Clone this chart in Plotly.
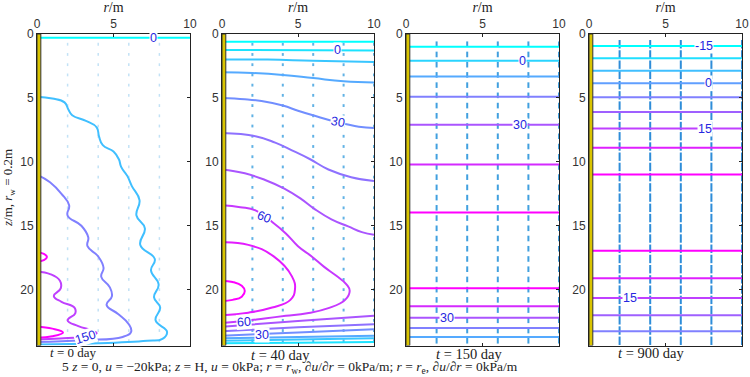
import plotly.graph_objects as go

# ---------------- data ----------------
X_TICKS = [0, 5, 10]
Y_TICKS = [0, 5, 10, 15, 20]
Z_MAX = 24.37
WELL_R = 0.25

PANEL_TITLES = ["<i>t</i> = 0 day", "<i>t</i> = 40 day", "<i>t</i> = 150 day", "<i>t</i> = 900 day"]

# Panel 1 (t = 0 day)
P1_RANGE = [0, 200]
P1_LEVELS = [0, 50, 100, 150, 200, 200]
P1_X = [
    [0, 10],
    [0, 1.0, 1.8, 2.05, 2.3, 3.2, 3.9, 4.05, 4.3, 5.0, 5.35, 5.5, 5.9, 6.2, 6.7, 6.5, 7.05, 6.75, 7.7, 7.45,
     7.95, 7.65, 8.05, 7.75, 8.5, 8.2, 7.2, 4.0, 0],
    [0, 0.85, 1.6, 2.1, 2.0, 2.9, 3.35, 3.3, 4.0, 4.35, 4.2, 4.75, 4.9, 4.55, 5.3, 6.0, 6.15, 5.6, 3.0, 0],
    [0, 0.9, 1.5, 1.55, 1.1, 1.6, 2.45, 2.5, 2.0, 2.7, 3.6, 3.9, 3.2, 1.5, 0],
    [0, 0.45, 0.65, 0.45, 0],
    [0, 1.0, 1.7, 1.0, 0],
]
P1_Y = [
    [0.3, 0.3],
    [4.9, 5.05, 5.35, 5.9, 6.35, 6.8, 7.3, 8.0, 8.7, 9.2, 9.8, 10.4, 11.1, 11.9, 13.0, 14.2, 15.2, 16.5, 17.6, 18.5,
     19.6, 20.6, 21.4, 22.4, 23.3, 23.85, 24.0, 24.2, 24.3],
    [11.0, 11.6, 12.5, 13.4, 14.2, 15.0, 15.9, 16.6, 17.4, 18.3, 19.0, 19.8, 20.5, 21.2, 21.9, 22.7, 23.3, 23.7, 23.95, 24.1],
    [18.6, 18.8, 19.3, 19.9, 20.5, 20.95, 21.4, 21.85, 22.4, 22.85, 23.2, 23.4, 23.65, 23.82, 23.9],
    [17.1, 17.2, 17.45, 17.7, 17.8],
    [22.9, 23.05, 23.35, 23.65, 23.75],
]
P1_LABELS = ["0", "150"]
P1_LABEL_X = [7.6, 3.2]
P1_LABEL_Y = [0.3, 23.72]
P1_LABEL_ANGLE = [0, -18]

# Panel 2 (t = 40 day)
P2_RANGE = [-10, 80]
P2_LEVELS = [-10, 0, 10, 20, 30, 40, 50, 60, 70, 80, 50, 40, 30, 20, 10, 0]
P2_X = [
    [0, 10],
    [0, 10],
    [0, 3, 6, 10],
    [0, 2, 4, 6, 8, 10],
    [0, 1.5, 2.6, 4, 5, 6.1, 7.6, 9, 10],
    [0, 2.2, 3.5, 4.6, 5.8, 7, 8.5, 10],
    [0, 1.5, 2.8, 4.1, 5.2, 6.1, 7.2, 8.3, 9.2, 10],
    [0, 1.2, 2.2, 3.4, 4.2, 5.0, 5.9, 6.7, 7.5, 8.2, 8.4, 8.1, 7.0, 5.6, 4.2, 2.8, 1.4, 0],
    [0, 1.73, 3.4, 4.6, 4.8, 4.5, 3.3, 1.73, 0],
    [0, 0.7, 1.3, 1.5, 1.3, 0.7, 0],
    [0, 5, 10],
    [0, 5, 10],
    [0, 5, 10],
    [0, 5, 10],
    [0, 5, 10],
    [0, 5, 10],
]
P2_Y = [
    [0.6, 0.6],
    [1.25, 1.3],
    [2.0, 2.0, 2.1, 2.2],
    [3.0, 3.05, 3.2, 3.45, 3.7, 3.8],
    [5.0, 5.1, 5.25, 5.6, 6.0, 6.4, 6.9, 7.25, 7.35],
    [7.75, 8.0, 8.5, 9.1, 9.8, 10.6, 11.2, 11.5],
    [10.6, 10.9, 11.4, 12.1, 12.9, 13.7, 14.5, 15.05, 15.5, 15.7],
    [13.4, 13.55, 13.8, 14.8, 15.6, 16.6, 17.4, 18.2, 18.9, 19.6, 20.1, 20.8, 21.45, 21.85, 22.05, 22.25, 22.45, 22.6],
    [16.3, 16.5, 17.4, 18.96, 20.0, 20.8, 21.4, 21.8, 22.0],
    [19.3, 19.4, 19.7, 20.1, 20.55, 20.8, 20.9],
    [22.9, 22.45, 22.05],
    [23.25, 22.95, 22.7],
    [23.6, 23.35, 23.1],
    [23.8, 23.7, 23.6],
    [24.0, 23.9, 23.8],
    [24.2, 24.15, 24.1],
]
P2_LABELS = ["0", "30", "60", "60", "30"]
P2_LABEL_X = [7.6, 7.6, 2.75, 1.45, 2.6]
P2_LABEL_Y = [1.27, 6.85, 14.35, 22.55, 23.55]
P2_LABEL_ANGLE = [0, 10, 22, -4, 0]

# Panel 3 (t = 150 day): horizontal contours
P3_RANGE = [-10, 50]
P3_LEVELS = [-10, 0, 10, 20, 30, 40, 50, 50, 40, 30, 20, 10]
P3_DEPTH = [0.99, 2.1, 3.33, 4.9, 7.1, 10.2, 13.96, 19.9, 21.3, 22.2, 23.0, 23.7]
P3_LABELS = ["0", "30", "30"]
P3_LABEL_X = [7.6, 7.45, 2.65]
P3_LABEL_Y = [2.1, 7.1, 22.2]

# Panel 4 (t = 900 day): horizontal contours
P4_RANGE = [-15, 25]
P4_LEVELS = [-15, -10, -5, 0, 5, 10, 15, 20, 25, 25, 20, 15, 10, 5]
P4_DEPTH = [0.94, 1.9, 2.87, 3.85, 4.95, 6.1, 7.4, 8.9, 11.0, 16.95, 19.1, 20.65, 22.0, 23.25]
P4_LABELS = ["-15", "0", "15", "15"]
P4_LABEL_X = [7.5, 7.8, 7.6, 2.7]
P4_LABEL_Y = [0.94, 3.85, 7.4, 20.65]

# flow-arrow (quiver) grid
P1_QX = [2, 4, 6, 8]
P2_QX = [2, 4, 6, 8, 10]
P3_QX = [0.12, 2, 4, 6, 8, 10]
P4_QX = [0.12, 2, 4, 6, 8, 10]
QUIVER_Y = [0.8, 1.6, 2.4, 3.2, 4.0, 4.8, 5.6, 6.4, 7.2, 8.0, 8.8, 9.6, 10.4, 11.2, 12.0,
            12.8, 13.6, 14.4, 15.2, 16.0, 16.8, 17.6, 18.4, 19.2, 20.0, 20.8, 21.6, 22.4, 23.2, 24.0]

# ---------------- figure ----------------
W, H = 750, 377
X_DOM = [[37, 190], [222, 374], [406, 559], [589, 742]]
Y_TOP, Y_BOT = 34, 345.5


def cool(level, rng):
    t = (level - rng[0]) / (rng[1] - rng[0])
    t = min(max(t, 0), 1)
    return "rgb(%d,%d,255)" % (round(255 * t), round(255 * (1 - t)))


def ax(k, base):
    return base if k == 1 else base + str(k)


fig = go.Figure()
LABEL_FONT = dict(family="Liberation Sans", size=12.5, color="#2626e0")
annotations = []


def add_lines(k, levels, xs, ys, rng):
    for lv, x, y in zip(levels, xs, ys):
        fig.add_trace(go.Scatter(x=x, y=y, mode="lines", xaxis=ax(k, "x"), yaxis=ax(k, "y"),
                                 line=dict(color=cool(lv, rng), width=2, shape="spline", smoothing=1.3),
                                 hoverinfo="skip", showlegend=False))


def add_labels(k, texts, lx, ly, ang):
    for t, x, y, a in zip(texts, lx, ly, ang):
        annotations.append(dict(x=x, y=y, xref=ax(k, "x"), yref=ax(k, "y"),
                                text=t, showarrow=False, font=LABEL_FONT, bgcolor="white",
                                borderpad=0, textangle=a))


def add_quiver(k, qx, color, size, width, opacity):
    xs, ys = [], []
    for x in qx:
        for y in QUIVER_Y:
            xs.append(x)
            ys.append(y)
    fig.add_trace(go.Scatter(x=xs, y=ys, mode="markers", xaxis=ax(k, "x"), yaxis=ax(k, "y"),
                             marker=dict(symbol="line-ns", size=size, color=color,
                                         line=dict(color=color, width=width)),
                             opacity=opacity, hoverinfo="skip", showlegend=False))


# quivers first (under contours)
add_quiver(1, P1_QX, "rgb(120,190,235)", 2, 1.5, 0.45)
add_quiver(2, P2_QX, "rgb(70,165,225)", 2, 2, 0.85)
add_quiver(3, P3_QX, "rgb(45,150,220)", 4, 2, 0.9)
add_quiver(4, P4_QX, "rgb(35,135,215)", 6, 2, 0.95)

add_lines(1, P1_LEVELS, P1_X, P1_Y, P1_RANGE)
add_lines(2, P2_LEVELS, P2_X, P2_Y, P2_RANGE)
add_lines(3, P3_LEVELS, [[0, 10]] * len(P3_DEPTH), [[d, d] for d in P3_DEPTH], P3_RANGE)
add_lines(4, P4_LEVELS, [[0, 10]] * len(P4_DEPTH), [[d, d] for d in P4_DEPTH], P4_RANGE)

add_labels(1, P1_LABELS, P1_LABEL_X, P1_LABEL_Y, P1_LABEL_ANGLE)
add_labels(2, P2_LABELS, P2_LABEL_X, P2_LABEL_Y, P2_LABEL_ANGLE)
add_labels(3, P3_LABELS, P3_LABEL_X, P3_LABEL_Y, [0] * len(P3_LABELS))
add_labels(4, P4_LABELS, P4_LABEL_X, P4_LABEL_Y, [0] * len(P4_LABELS))

shapes = []
layout = dict(width=W, height=H, margin=dict(l=0, r=0, t=0, b=0, autoexpand=False),
              paper_bgcolor="white", plot_bgcolor="white", showlegend=False)
TICKFONT = dict(family="Liberation Sans", size=12, color="#333333")
for i in range(4):
    k = i + 1
    sx = "" if k == 1 else str(k)
    layout["xaxis" + sx] = dict(domain=[X_DOM[i][0] / W, X_DOM[i][1] / W], range=[0, 10],
                                anchor="y" + sx, side="top", tickvals=X_TICKS, automargin=False,
                                ticks="inside", ticklen=3, tickcolor="#222",
                                showline=True, mirror="ticks", linecolor="#222", linewidth=1,
                                showgrid=False, zeroline=False, tickfont=TICKFONT,
                                title=dict(text="<i>r</i>/m", standoff=2,
                                           font=dict(family="Liberation Serif", size=14, color="#222")))
    layout["yaxis" + sx] = dict(domain=[1 - Y_BOT / H, 1 - Y_TOP / H], range=[Z_MAX, 0],
                                anchor="x" + sx, tickvals=Y_TICKS, automargin=False,
                                ticks="inside", ticklen=3, tickcolor="#222",
                                showline=True, mirror="ticks", linecolor="#222", linewidth=1,
                                showgrid=False, zeroline=False, tickfont=TICKFONT)
    shapes.append(dict(type="rect", xref="x" + sx, yref="y" + sx, x0=0, x1=WELL_R, y0=0, y1=Z_MAX,
                       fillcolor="#d9c400", line=dict(color="#333", width=1), layer="above"))

TITLE_POS = [(73, 352, 13), (280, 355, 14.5), (469, 354, 14.5), (651, 353, 14.5)]
for t, (px, py, fs) in zip(PANEL_TITLES, TITLE_POS):
    annotations.append(dict(x=px / W, y=1 - py / H, xref="paper", yref="paper", text=t, showarrow=False,
                            xanchor="center", yanchor="middle",
                            font=dict(family="Liberation Serif", size=fs, color="#222")))

annotations.append(dict(x=290 / W, y=1 - 367 / H, xref="paper", yref="paper", xanchor="center", yanchor="middle",
                        text="5 <i>z</i> = 0, <i>u</i> = \u221220kPa; <i>z</i> = H, <i>u</i> = 0kPa; "
                             "<i>r</i> = <i>r</i><sub>w</sub>, \u2202<i>u</i>/\u2202<i>r</i> = 0kPa/m; "
                             "<i>r</i> = <i>r</i><sub>e</sub>, \u2202<i>u</i>/\u2202<i>r</i> = 0kPa/m",
                        showarrow=False, font=dict(family="Liberation Serif", size=13.5, color="#222")))
annotations.append(dict(x=9 / W, y=1 - 188 / H, xref="paper", yref="paper", xanchor="center", yanchor="middle",
                        text="<i>z</i>/m, <i>r</i><sub>w</sub> = 0.2m", textangle=-90, showarrow=False,
                        font=dict(family="Liberation Serif", size=13, color="#222")))

layout["shapes"] = shapes
layout["annotations"] = annotations
fig.update_layout(**layout)
fig.write_html("out.html")
